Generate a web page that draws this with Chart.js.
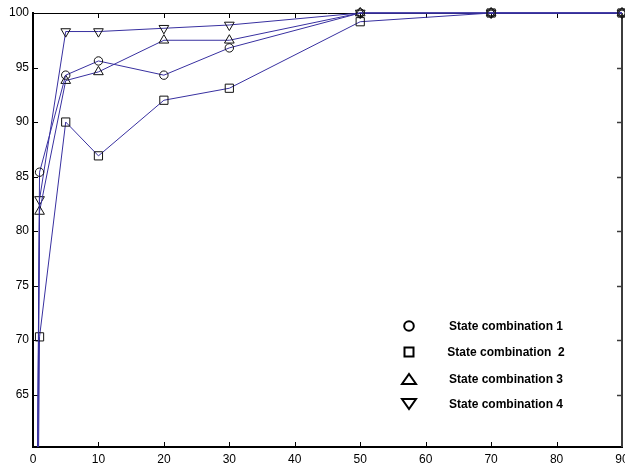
<!DOCTYPE html>
<html>
<head>
<meta charset="utf-8">
<script src="https://cdn.jsdelivr.net/npm/chart.js@4.4.1/dist/chart.umd.min.js"></script>
<style>
  html, body { margin: 0; padding: 0; background: #fff; }
  #wrap { width: 625px; height: 466px; }
</style>
</head>
<body>
<div id="wrap"><canvas id="chart" width="625" height="466"></canvas></div>
<script>
// values
const xValues = [0, 1, 5, 10, 20, 30, 50, 70, 90];
const combo1 = [0, 85.4, 94.3, 95.6, 94.3, 96.8, 100, 100, 100];
const combo2 = [0, 70.3, 90.0, 86.9, 92.0, 93.1, 99.2, 100, 100];
const combo3 = [0, 81.8, 93.8, 94.6, 97.5, 97.5, 100, 100, 100];
const combo4 = [0, 82.9, 98.3, 98.3, 98.6, 98.9, 100, 100, 100];
const seriesLabels = ['State combination 1', 'State combination  2', 'State combination 3', 'State combination 4'];
const xTicks = [0, 10, 20, 30, 40, 50, 60, 70, 80, 90];
const yTicks = [65, 70, 75, 80, 85, 90, 95, 100];

const LINE_COLOR = '#3830a0';
const FONT = '"Liberation Sans", Arial, sans-serif';

const toPoints = ys => xValues.map((x, i) => ({ x, y: ys[i] }));

function makeDataset(label, ys, style, radius, rotation) {
    return {
        label,
        data: toPoints(ys),
        borderColor: LINE_COLOR,
        borderWidth: 1,
        tension: 0,
        pointStyle: style,
        pointRadius: radius,
        pointRotation: rotation || 0,
        pointBorderColor: '#111',
        pointBorderWidth: 1,
        pointBackgroundColor: 'rgba(0,0,0,0)',
        clip: { left: 0, top: 8, right: 8, bottom: 0 }
    };
}

// let the last x label hang over the canvas edge like the original
const noLabelPadding = {
    id: 'noLabelPadding',
    beforeLayout(chart) {
        Object.values(chart.scales).forEach(s => {
            s.getPadding = () => ({ left: 0, top: 0, right: 0, bottom: 0 });
        });
    }
};

// top / right frame and inward tick marks
const framePlugin = {
    id: 'frame',
    beforeDatasetsDraw(chart) {
        const { ctx, chartArea: a, scales: { x, y } } = chart;
        const seg = (x1, y1, x2, y2) => {
            ctx.beginPath(); ctx.moveTo(x1, y1); ctx.lineTo(x2, y2); ctx.stroke();
        };
        ctx.save();
        ctx.strokeStyle = '#000';
        ctx.lineWidth = 1;
        seg(a.left, a.top + 0.5, a.right, a.top + 0.5);
        x.ticks.forEach(t => {
            const px = Math.round(x.getPixelForValue(t.value)) + 0.5;
            if (t.value <= x.min || t.value >= x.max) return;
            seg(px, a.bottom, px, a.bottom - 5);
            seg(px, a.top, px, a.top + 5);
        });
        y.ticks.forEach(t => {
            const py = Math.round(y.getPixelForValue(t.value)) + 0.5;
            if (t.value >= y.max) return;
            seg(a.left, py, a.left + 5, py);
        });
        ctx.strokeStyle = '#3c3c3c';
        ctx.lineWidth = 2;
        seg(a.right, a.top, a.right, a.bottom);
        y.ticks.forEach(t => {
            const py = Math.round(y.getPixelForValue(t.value)) + 0.5;
            if (t.value >= y.max) return;
            ctx.lineWidth = 1.5;
            seg(a.right, py, a.right - 5, py);
        });
        ctx.restore();
    }
};

// legend drawn inside the plot, lower right
const legendPlugin = {
    id: 'innerLegend',
    afterDraw(chart) {
        const { ctx } = chart;
        const markX = 409, textX = 506;
        const rows = [326, 352, 379, 404];
        ctx.save();
        ctx.strokeStyle = '#000';
        ctx.lineWidth = 2;
        ctx.fillStyle = '#000';
        ctx.font = 'bold 12px ' + FONT;
        ctx.textAlign = 'center';
        ctx.textBaseline = 'middle';
        chart.data.datasets.forEach((ds, i) => {
            const cy = rows[i];
            ctx.beginPath();
            if (i === 0) {
                ctx.arc(markX, cy, 4.8, 0, Math.PI * 2);
            } else if (i === 1) {
                ctx.rect(markX - 4.5, cy - 4.5, 9, 9);
            } else if (i === 2) {
                ctx.moveTo(markX - 7, cy + 5);
                ctx.lineTo(markX + 7, cy + 5);
                ctx.lineTo(markX, cy - 5);
                ctx.closePath();
            } else {
                ctx.moveTo(markX - 7, cy - 5);
                ctx.lineTo(markX + 7, cy - 5);
                ctx.lineTo(markX, cy + 5);
                ctx.closePath();
            }
            ctx.stroke();
            ctx.fillText(ds.label, textX, cy + 1);
        });
        ctx.restore();
    }
};

new Chart(document.getElementById('chart'), {
    type: 'line',
    data: {
        datasets: [
            makeDataset(seriesLabels[0], combo1, 'circle', 4.2),
            makeDataset(seriesLabels[1], combo2, 'rect', 5.8),
            makeDataset(seriesLabels[2], combo3, 'triangle', 5.6),
            makeDataset(seriesLabels[3], combo4, 'triangle', 5.6, 180)
        ]
    },
    options: {
        responsive: false,
        animation: false,
        layout: { autoPadding: false, padding: { top: 13, right: 3, left: 0, bottom: 0 } },
        plugins: {
            legend: { display: false },
            tooltip: { enabled: false }
        },
        scales: {
            x: {
                type: 'linear',
                min: 0,
                max: 90,
                afterBuildTicks: s => { s.ticks = xTicks.map(v => ({ value: v })); },
                afterFit: s => { s.height = 19; },
                grid: { display: false, drawTicks: false },
                border: { display: true, color: '#000', width: 2 },
                ticks: { color: '#000', font: { family: FONT, size: 12 }, padding: 5, maxRotation: 0, autoSkip: false }
            },
            y: {
                min: 60.2,
                max: 100,
                afterBuildTicks: s => { s.ticks = yTicks.map(v => ({ value: v })); },
                afterFit: s => { s.width = 33; },
                grid: { display: false, drawTicks: false },
                border: { display: true, color: '#000', width: 2 },
                ticks: { color: '#000', font: { family: FONT, size: 12 }, padding: 4 }
            }
        }
    },
    plugins: [noLabelPadding, framePlugin, legendPlugin]
});
</script>
</body>
</html>
